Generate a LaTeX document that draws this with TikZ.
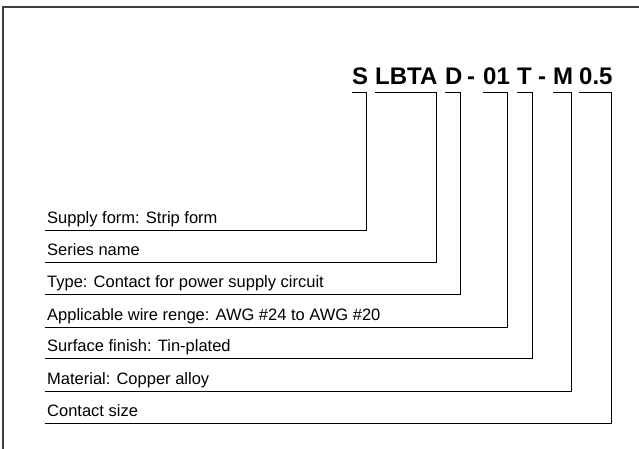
\documentclass[tikz,border=0pt]{standalone}
\usepackage{fontspec}
\setmainfont{Liberation Sans}
\usepackage{tikz}

\begin{document}
\begin{tikzpicture}[x=1pt,y=-1pt,
    seg/.style={inner sep=0pt,anchor=base west,font=\fontsize{24}{26}\selectfont\bfseries},
    lab/.style={inner xsep=2pt,inner ysep=0pt,anchor=base west,font=\fontsize{16.5}{18}\selectfont},
    lead/.style={line width=0.9pt}]
        \useasboundingbox (0,0) rectangle (639,449);
        \draw[line width=1.4pt,black!75] (639,7) -- (3,7) -- (3,449);
        % code segments and dashes
        \node[seg] (dash1) at (467,85) {-};
        \node[seg] (dash2) at (538,85) {-};
        % segment / label / bracket
        \foreach \nm/\seg/\sx/\vx/\ly/\lab in {
            a/S/352/366/230/{Supply form: Strip form},
            b/LBTA/375/436/262/{Series name},
            c/D/445/460/294/{Type: Contact for power supply circuit},
            d/01/483/507/327/{Applicable wire renge: AWG \#24 to AWG \#20},
            e/T/517/532/358/{Surface finish: Tin-plated},
            f/M/553/571/391/{Material: Copper alloy},
            g/0.5/579/611/423/{Contact size}} {
          \node[seg] (s\nm) at (\sx,85) {\seg};
          \node[lab] (l\nm) at (45,\ly-7) {\lab};
          \coordinate (c\nm) at (\vx,\ly);
          \draw[lead] ([yshift=-7pt]s\nm.south west) -| (c\nm) -- (c\nm -| l\nm.west);
        }
      \end{tikzpicture}
\end{document}
